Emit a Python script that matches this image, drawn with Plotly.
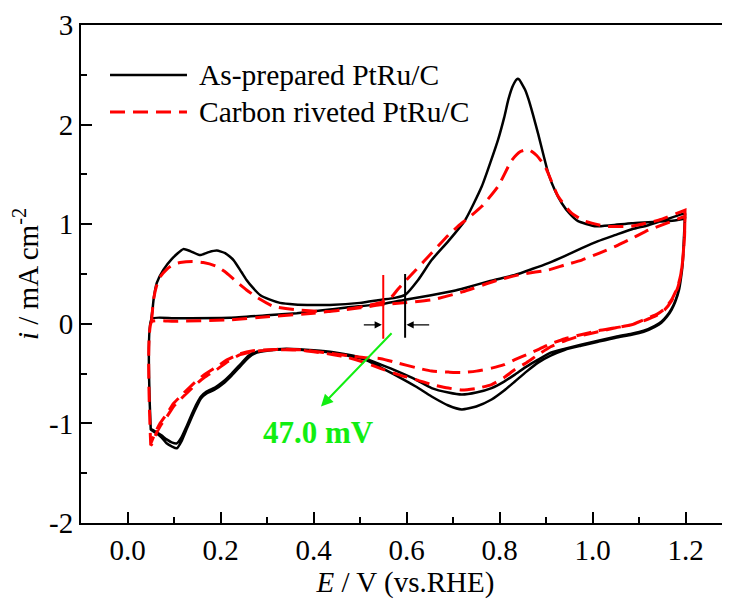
import plotly.graph_objects as go

# ---------------- data (E in V vs RHE, i in mA cm^-2) ----------------
# As-prepared PtRu/C (black)
blk_fwd1_E = [0.051, 0.052, 0.054, 0.056, 0.063, 0.077, 0.095, 0.120, 0.135, 0.156, 0.175, 0.192, 0.210,
              0.228, 0.245, 0.256, 0.270, 0.285, 0.305, 0.328, 0.360, 0.400, 0.435, 0.500, 0.543, 0.575,
              0.597, 0.625, 0.654, 0.690, 0.726, 0.762, 0.797, 0.810, 0.819, 0.827, 0.832, 0.836, 0.839,
              0.843, 0.848, 0.855, 0.862, 0.872, 0.883, 0.905, 0.920, 0.934, 0.950, 0.969, 1.005, 1.040,
              1.084, 1.120, 1.156, 1.180, 1.199]
blk_fwd1_i = [0.05, 0.08, 0.15, 0.24, 0.41, 0.54, 0.65, 0.75, 0.73, 0.69, 0.72, 0.735, 0.71,
              0.64, 0.52, 0.44, 0.36, 0.29, 0.245, 0.21, 0.195, 0.19, 0.19, 0.21, 0.24, 0.26,
              0.29, 0.44, 0.64, 0.83, 1.04, 1.38, 1.85, 2.07, 2.25, 2.37, 2.42, 2.45, 2.46,
              2.45, 2.41, 2.35, 2.26, 2.10, 1.91, 1.51, 1.33, 1.21, 1.11, 1.03, 0.98, 0.99,
              1.01, 1.02, 1.03, 1.04, 1.06]
blk_rev1_E = [1.199, 1.198, 1.196, 1.194, 1.190, 1.186, 1.178, 1.170, 1.160, 1.148, 1.134, 1.110, 1.084,
              1.050, 1.012, 0.975, 0.941, 0.910, 0.883, 0.858, 0.833, 0.810, 0.783, 0.750, 0.719, 0.690,
              0.654, 0.620, 0.582, 0.545, 0.511, 0.475, 0.443, 0.400, 0.371, 0.340, 0.321, 0.300, 0.278,
              0.260, 0.242, 0.224, 0.206, 0.188, 0.170, 0.158, 0.149, 0.138, 0.127, 0.116, 0.106, 0.095,
              0.084, 0.073, 0.063, 0.052, 0.050]
blk_rev1_i = [1.08, 1.00, 0.80, 0.61, 0.45, 0.34, 0.22, 0.14, 0.07, 0.01, -0.03, -0.08, -0.11,
              -0.14, -0.18, -0.22, -0.26, -0.32, -0.39, -0.48, -0.58, -0.67, -0.76, -0.83, -0.86, -0.82,
              -0.73, -0.63, -0.53, -0.44, -0.36, -0.32, -0.29, -0.27, -0.26, -0.255, -0.26, -0.27, -0.29,
              -0.34, -0.43, -0.52, -0.60, -0.66, -0.70, -0.75, -0.83, -0.94, -1.06, -1.18, -1.25, -1.23,
              -1.20, -1.14, -1.10, -1.07, -1.06]
blk_fwd2_E = [0.050, 0.052, 0.100, 0.220, 0.300, 0.364, 0.420, 0.471, 0.550, 0.600, 0.650, 0.700, 0.726,
              0.780, 0.833, 0.870, 0.905, 0.940, 0.977, 1.012, 1.048, 1.085, 1.120, 1.160, 1.199]
blk_fwd2_i = [-1.06, 0.05, 0.055, 0.06, 0.085, 0.107, 0.135, 0.164, 0.20, 0.245, 0.285, 0.33, 0.36,
              0.43, 0.49, 0.55, 0.61, 0.68, 0.76, 0.83, 0.89, 0.95, 0.99, 1.05, 1.11]
blk_rev2_E = [1.199, 1.198, 1.196, 1.194, 1.190, 1.186, 1.178, 1.170, 1.160, 1.148, 1.134, 1.110, 1.084,
              1.050, 1.012, 0.975, 0.941, 0.910, 0.883, 0.858, 0.833, 0.810, 0.783, 0.750, 0.719, 0.690,
              0.654, 0.620, 0.582, 0.545, 0.511, 0.475, 0.443, 0.400, 0.371, 0.340, 0.321, 0.300, 0.278,
              0.260, 0.242, 0.224, 0.206, 0.188, 0.170, 0.158, 0.149, 0.138, 0.127, 0.116, 0.106, 0.095,
              0.084, 0.073, 0.063, 0.052, 0.050]
blk_rev2_i = [1.10, 1.00, 0.80, 0.61, 0.46, 0.35, 0.23, 0.15, 0.08, 0.02, -0.02, -0.07, -0.10,
              -0.13, -0.17, -0.21, -0.25, -0.29, -0.36, -0.43, -0.51, -0.58, -0.645, -0.69, -0.71, -0.69,
              -0.645, -0.56, -0.48, -0.41, -0.35, -0.31, -0.285, -0.265, -0.255, -0.25, -0.255, -0.265, -0.28,
              -0.32, -0.41, -0.50, -0.58, -0.64, -0.68, -0.73, -0.80, -0.91, -1.03, -1.14, -1.20, -1.19,
              -1.16, -1.12, -1.09, -1.06, -1.06]

# Carbon riveted PtRu/C (red dashed)
red_fwd1_E = [0.051, 0.052, 0.054, 0.057, 0.063, 0.070, 0.085, 0.100, 0.113, 0.140, 0.163, 0.190, 0.213,
              0.235, 0.256, 0.280, 0.314, 0.364, 0.435, 0.507, 0.557, 0.570, 0.582, 0.620, 0.654, 0.690,
              0.711, 0.735, 0.762, 0.797, 0.826, 0.845, 0.862, 0.880, 0.898, 0.926, 0.955, 0.984, 1.027,
              1.084, 1.142, 1.199]
red_fwd1_i = [0.02, 0.04, 0.15, 0.27, 0.39, 0.47, 0.55, 0.60, 0.615, 0.625, 0.615, 0.58, 0.51,
              0.42, 0.34, 0.26, 0.174, 0.14, 0.124, 0.174, 0.23, 0.28, 0.35, 0.54, 0.71, 0.89,
              0.98, 1.07, 1.18, 1.38, 1.64, 1.73, 1.75, 1.69, 1.58, 1.28, 1.11, 1.03, 0.98,
              0.98, 1.04, 1.14]
red_rev1_E = [1.199, 1.198, 1.195, 1.190, 1.183, 1.170, 1.155, 1.140, 1.110, 1.084, 1.050, 1.012, 0.975,
              0.941, 0.910, 0.883, 0.858, 0.833, 0.810, 0.783, 0.750, 0.719, 0.690, 0.654, 0.620, 0.582,
              0.545, 0.511, 0.475, 0.443, 0.400, 0.371, 0.340, 0.300, 0.270, 0.242, 0.215, 0.192, 0.165,
              0.142, 0.120, 0.099, 0.085, 0.070, 0.060, 0.052, 0.050]
red_rev1_i = [1.14, 0.90, 0.70, 0.50, 0.37, 0.24, 0.15, 0.10, 0.04, -0.01, -0.04, -0.08, -0.12,
              -0.17, -0.23, -0.31, -0.39, -0.46, -0.54, -0.61, -0.65, -0.665, -0.645, -0.61, -0.56, -0.51,
              -0.45, -0.39, -0.34, -0.31, -0.28, -0.265, -0.26, -0.265, -0.28, -0.31, -0.38, -0.46, -0.54,
              -0.63, -0.73, -0.83, -0.93, -1.03, -1.12, -1.21, -1.22]
red_fwd2_E = [0.050, 0.052, 0.100, 0.220, 0.300, 0.400, 0.500, 0.543, 0.593, 0.654, 0.720, 0.797, 0.850,
              0.905, 0.940, 0.977, 1.015, 1.055, 1.090, 1.120, 1.160, 1.199]
red_fwd2_i = [-1.22, 0.02, 0.025, 0.04, 0.07, 0.107, 0.16, 0.19, 0.21, 0.24, 0.32, 0.44, 0.50,
              0.54, 0.59, 0.64, 0.71, 0.79, 0.87, 0.94, 1.01, 1.08]
red_rev2_E = [1.199, 1.198, 1.195, 1.190, 1.183, 1.170, 1.155, 1.140, 1.110, 1.084, 1.050, 1.012, 0.975,
              0.941, 0.910, 0.883, 0.858, 0.833, 0.810, 0.783, 0.750, 0.719, 0.690, 0.654, 0.620, 0.582,
              0.545, 0.511, 0.475, 0.443, 0.400, 0.371, 0.340, 0.300, 0.270, 0.242, 0.215, 0.192, 0.165,
              0.142, 0.120, 0.099, 0.085, 0.070, 0.060, 0.052, 0.050]
red_rev2_i = [1.08, 0.88, 0.68, 0.49, 0.36, 0.23, 0.14, 0.09, 0.03, -0.01, -0.04, -0.07, -0.11,
              -0.15, -0.20, -0.26, -0.31, -0.36, -0.41, -0.445, -0.475, -0.49, -0.485, -0.475, -0.44, -0.395,
              -0.35, -0.34, -0.32, -0.30, -0.275, -0.26, -0.255, -0.26, -0.27, -0.30, -0.36, -0.43, -0.51,
              -0.60, -0.70, -0.80, -0.90, -1.00, -1.09, -1.18, -1.20]

series_names = ["As-prepared PtRu/C", "Carbon riveted PtRu/C"]
onset_E = [0.550, 0.597]          # onset markers (red, black)
shift_label = "47.0 mV"

x_ticks = [0.0, 0.2, 0.4, 0.6, 0.8, 1.0, 1.2]
y_ticks = [-2, -1, 0, 1, 2, 3]

# ---------------- figure ----------------
FONT = "Liberation Serif"
fig = go.Figure()

blk_E = blk_fwd1_E + blk_rev1_E + blk_fwd2_E + blk_rev2_E
blk_i = blk_fwd1_i + blk_rev1_i + blk_fwd2_i + blk_rev2_i
red_E = red_fwd1_E + red_rev1_E + red_fwd2_E + red_rev2_E
red_i = red_fwd1_i + red_rev1_i + red_fwd2_i + red_rev2_i

fig.add_trace(go.Scatter(x=blk_E, y=blk_i, mode="lines", name=series_names[0],
                         line=dict(color="black", width=2.5, shape="spline", smoothing=0.5),
                         showlegend=False))
fig.add_trace(go.Scatter(x=red_E, y=red_i, mode="lines", name=series_names[1],
                         line=dict(color="#ff0000", width=3, dash="15px,8px", shape="spline", smoothing=0.5),
                         showlegend=False))

# onset markers
fig.add_shape(type="line", xref="x", yref="y", x0=onset_E[0], x1=onset_E[0], y0=-0.15, y1=0.49,
              line=dict(color="#ff0000", width=2))
fig.add_shape(type="line", xref="x", yref="y", x0=onset_E[1], x1=onset_E[1], y0=-0.14, y1=0.50,
              line=dict(color="black", width=2))
# small black arrows
fig.add_annotation(x=onset_E[0] - 0.003, y=-0.01, ax=onset_E[0] - 0.045, ay=-0.01,
                   xref="x", yref="y", axref="x", ayref="y", showarrow=True, text="",
                   arrowhead=2, arrowsize=1.2, arrowwidth=1.2, arrowcolor="black")
fig.add_annotation(x=onset_E[1] + 0.003, y=-0.01, ax=onset_E[1] + 0.055, ay=-0.01,
                   xref="x", yref="y", axref="x", ayref="y", showarrow=True, text="",
                   arrowhead=2, arrowsize=1.2, arrowwidth=1.2, arrowcolor="black")
# green arrow and label
fig.add_annotation(x=0.416, y=-0.83, ax=0.571, ay=-0.08,
                   xref="x", yref="y", axref="x", ayref="y", showarrow=True, text="",
                   arrowhead=2, arrowsize=1.2, arrowwidth=2, arrowcolor="#11ee11")
fig.add_annotation(x=0.41, y=-1.09, xref="x", yref="y", showarrow=False,
                   text="<b>" + shift_label + "</b>",
                   font=dict(family=FONT, size=31, color="#11ee11"))

# custom legend (figure is drawn with an 8 px page offset; plot area is 649 x 498 px)
fig.add_shape(type="line", xref="paper", yref="paper", x0=0.0447, x1=0.1633, y0=0.8996, y1=0.8996,
              line=dict(color="black", width=2.5))
fig.add_shape(type="line", xref="paper", yref="paper", x0=0.0447, x1=0.1633, y0=0.8253, y1=0.8253,
              line=dict(color="#ff0000", width=3, dash="15px,8px"))
fig.add_annotation(x=0.1787, y=0.8996, xref="paper", yref="paper", xanchor="left", yanchor="middle",
                   showarrow=False, text=series_names[0], font=dict(family=FONT, size=29.5, color="black"))
fig.add_annotation(x=0.1787, y=0.8253, xref="paper", yref="paper", xanchor="left", yanchor="middle",
                   showarrow=False, text=series_names[1], font=dict(family=FONT, size=29.5, color="black"))

axis_common = dict(showgrid=False, zeroline=False, showline=True, linecolor="black", linewidth=2,
                   ticks="inside", ticklen=11, tickwidth=2, tickcolor="black", automargin=False,
                   tickfont=dict(family=FONT, size=29, color="black"))

fig.update_xaxes(range=[-0.1, 1.2957], tickvals=x_ticks, ticktext=[f"{v:.1f}" for v in x_ticks],
                 mirror=True,
                 minor=dict(dtick=0.1, tick0=0.1, ticks="inside", ticklen=6, tickwidth=2, tickcolor="black"),
                 title=dict(text="<i>E</i> / V (vs.RHE)", font=dict(family=FONT, size=29, color="black"),
                            standoff=2),
                 **axis_common)
fig.update_yaxes(range=[-2, 3], tickvals=y_ticks, ticktext=[str(v) for v in y_ticks],
                 minor=dict(dtick=0.5, tick0=0.5, ticks="inside", ticklen=6, tickwidth=2, tickcolor="black"),
                 title=dict(text="<i>i</i> / mA cm<sup>-2</sup>", font=dict(family=FONT, size=29, color="black"),
                            standoff=8),
                 **axis_common)

fig.update_layout(width=722, height=592, margin=dict(l=73, r=0, t=17, b=77),
                  plot_bgcolor="white", paper_bgcolor="white", showlegend=False,
                  font=dict(family=FONT))

fig.write_html("out.html")
